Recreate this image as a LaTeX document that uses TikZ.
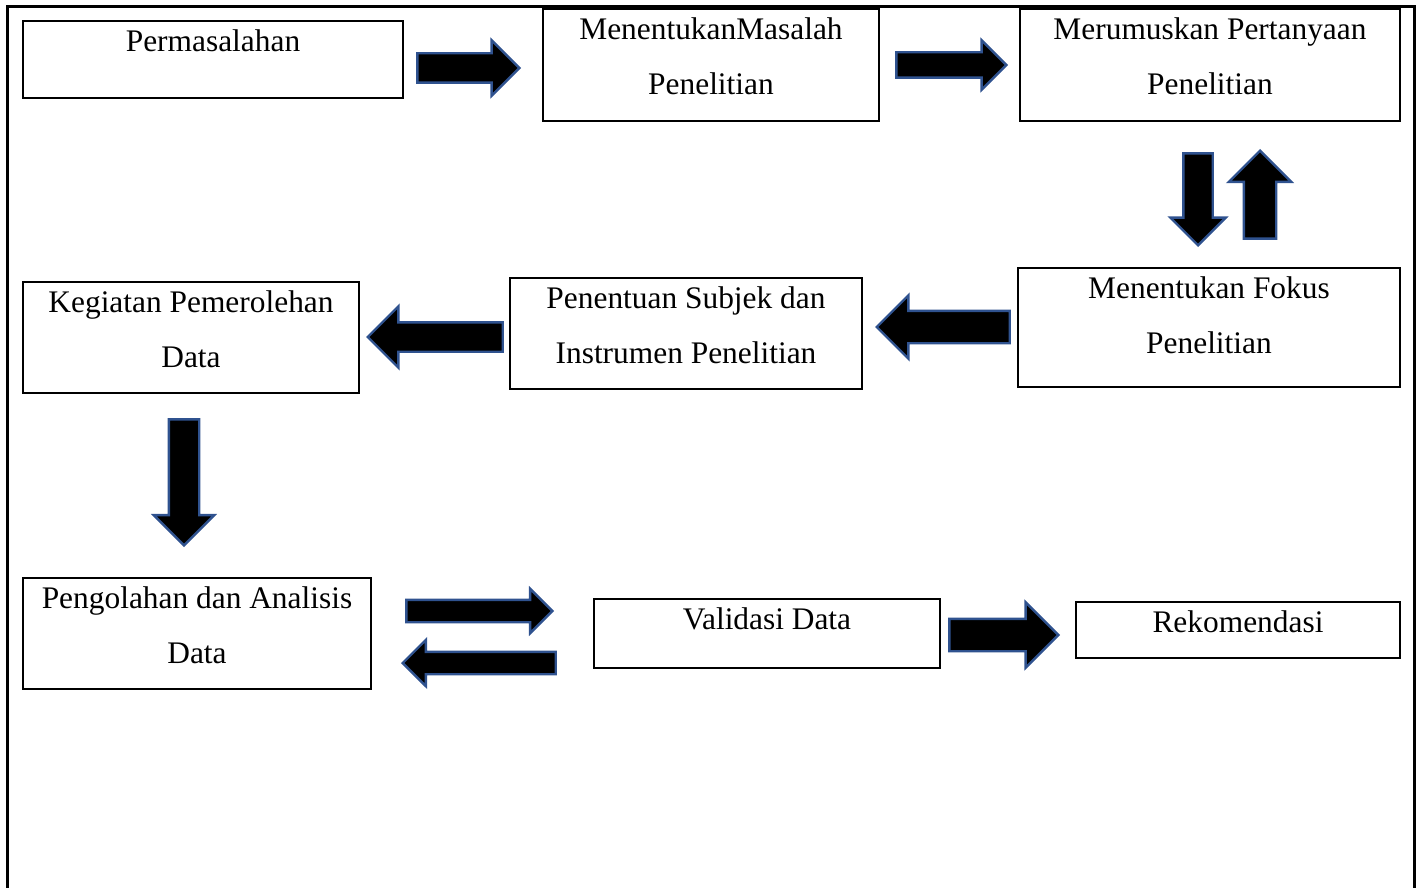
\documentclass[tikz,border=0pt]{standalone}
\usepackage{fontspec}
\setmainfont{Liberation Serif}
\usepackage{tikz}
\usetikzlibrary{shapes,arrows}
\definecolor{arrowblue}{HTML}{2F528F}
\tikzstyle{box} = [rectangle, draw, line width=1pt, anchor=north west, inner sep=0pt]
\tikzstyle{txt} = [anchor=north, inner xsep=0pt, inner ysep=0pt, align=center,
	text height=15.5pt, font=\fontsize{15.7}{27.5}\selectfont]
\tikzstyle{txttwo} = [txt, text height=43pt]
\tikzstyle{barrow} = [single arrow, draw=arrowblue, fill=black, line width=1.2pt,
	inner xsep=0pt, minimum width=0pt, single arrow head indent=0pt, anchor=tip]

\begin{document}
\begin{tikzpicture}[x=0.5pt, y=-0.5pt]
	\useasboundingbox (0,0) rectangle (1419,888);
	% Frame
	\draw [line width=1.5pt] (7,888) -- (7,7) -- (1414,7) -- (1414,888);
	% Place boxes
	\node [box, minimum width=190pt, minimum height=38.5pt] (masalah) at (22,20) {};
	\node [box, minimum width=168pt, minimum height=56pt] (menentukan) at (542,8) {};
	\node [box, minimum width=190pt, minimum height=56pt] (merumuskan) at (1019,8) {};
	\node [box, minimum width=191pt, minimum height=59.5pt] (fokus) at (1017,267) {};
	\node [box, minimum width=176pt, minimum height=55.5pt] (subjek) at (509,277) {};
	\node [box, minimum width=168pt, minimum height=55.5pt] (kegiatan) at (22,281) {};
	\node [box, minimum width=174pt, minimum height=55.5pt] (pengolahan) at (22,577) {};
	\node [box, minimum width=173pt, minimum height=34.5pt] (validasi) at (593,598) {};
	\node [box, minimum width=162pt, minimum height=28pt] (rekomendasi) at (1075,601) {};
	% Box texts
	\node [txt] (masalah-t) at (masalah.north) {Permasalahan};
	\node [txttwo] (menentukan-t) at (menentukan.north) {MenentukanMasalah\\Penelitian};
	\node [txttwo] (merumuskan-t) at (merumuskan.north) {Merumuskan Pertanyaan\\Penelitian};
	\node [txttwo] (fokus-t) at (fokus.north) {Menentukan Fokus\\Penelitian};
	\node [txttwo] (subjek-t) at (subjek.north) {Penentuan Subjek dan\\Instrumen Penelitian};
	\node [txttwo] (kegiatan-t) at (kegiatan.north) {Kegiatan Pemerolehan\\Data};
	\node [txttwo] (pengolahan-t) at (pengolahan.north) {Pengolahan dan Analisis\\Data};
	\node [txt] (validasi-t) at (validasi.north) {Validasi Data};
	\node [txt] (rekomendasi-t) at (rekomendasi.north) {Rekomendasi};
	% Block arrows
	\node [barrow, minimum height=51pt, inner ysep=6.75pt, single arrow head extend=6.5pt] (a1) at (521,68) {};
	\node [barrow, minimum height=55pt, inner ysep=5.75pt, single arrow head extend=6pt] (a2) at (1008,65) {};
	\node [barrow, rotate=-90, minimum height=46pt, inner ysep=6.75pt, single arrow head extend=6.5pt] (a3) at (1198,247) {};
	\node [barrow, rotate=90, minimum height=44pt, inner ysep=7.5pt, single arrow head extend=7.5pt] (a4) at (1260,149) {};
	\node [barrow, rotate=180, minimum height=66.5pt, inner ysep=7.5pt, single arrow head extend=7.75pt] (a5) at (875,327) {};
	\node [barrow, rotate=180, minimum height=67.5pt, inner ysep=6.75pt, single arrow head extend=8pt] (a6) at (366,337) {};
	\node [barrow, rotate=-90, minimum height=63pt, inner ysep=7pt, single arrow head extend=7.5pt] (a7) at (184,547) {};
	\node [barrow, minimum height=73pt, inner ysep=5pt, single arrow head extend=5.5pt] (a8) at (554,611) {};
	\node [barrow, rotate=180, minimum height=76.5pt, inner ysep=5pt, single arrow head extend=6pt] (a9) at (401,663) {};
	\node [barrow, minimum height=54.5pt, inner ysep=7.5pt, single arrow head extend=8.25pt] (a10) at (1060,635) {};
\end{tikzpicture}
\end{document}
